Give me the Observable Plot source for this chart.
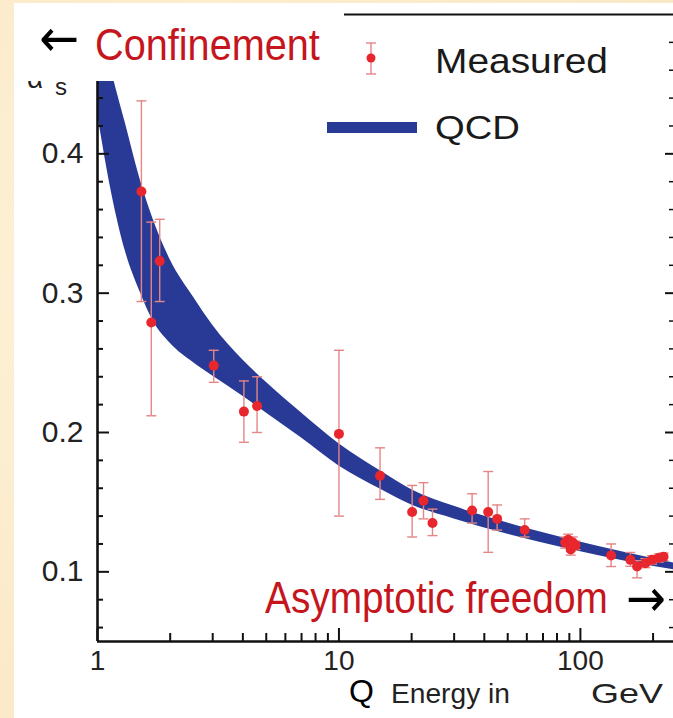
<!DOCTYPE html>
<html>
<head>
<meta charset="utf-8">
<script src="https://cdn.jsdelivr.net/npm/d3@7"></script>
<script src="https://cdn.jsdelivr.net/npm/@observablehq/plot@0.6"></script>
<style>
html, body { margin: 0; padding: 0; }
body { width: 673px; height: 718px; overflow: hidden; position: relative;
       background: radial-gradient(circle at 30% 40%, #FDF3DA 0%, #FBEBCB 60%, #FAE8C4 100%);
       font-family: "Liberation Sans", Arial, sans-serif; }
#panel { position: absolute; left: 14px; top: 3px; width: 659px; height: 715px; background: #fff; overflow: hidden; }
#chart { position: absolute; left: 0; top: 0; }
#overlay { position: absolute; left: 0; top: 0; }
</style>
</head>
<body>
<div id="panel"><div id="chart"></div></div>
<svg id="overlay" width="673" height="718" font-family="Liberation Sans, Arial, sans-serif">
  <!-- y-axis label, mostly hidden behind the annotation box -->
  <text x="27" y="88" font-size="28" fill="#222">α</text>
  <text x="55" y="95" font-size="24" fill="#222">s</text>
  <!-- annotation box -->
  <rect x="14" y="3" width="330" height="78" fill="#ffffff"></rect>
  <text class="fit" data-x="39" data-y="56" data-w="40" font-size="52" fill="#000" font-family="DejaVu Sans, sans-serif">←</text>
  <text class="fit" data-x="95" data-y="60" data-w="225" font-size="44" fill="#C5161D">Confinement</text>
  <!-- legend -->
  <line x1="371" x2="371" y1="43" y2="74" stroke="#E58585" stroke-width="1.4"></line>
  <line x1="366" x2="376" y1="43" y2="43" stroke="#E58585" stroke-width="1.4"></line>
  <line x1="366" x2="376" y1="74" y2="74" stroke="#E58585" stroke-width="1.4"></line>
  <circle cx="371" cy="58" r="4.5" fill="#E8262D"></circle>
  <text class="fit" data-x="435" data-y="73" data-w="173" font-size="35" fill="#1a1a1a">Measured</text>
  <rect x="327" y="122" width="90" height="11" fill="#283A96"></rect>
  <text class="fit" data-x="435" data-y="139" data-w="85" font-size="34" fill="#1a1a1a">QCD</text>
  <!-- bottom annotation -->
  <text class="fit" data-x="265" data-y="613" data-w="343" font-size="44" fill="#C5161D">Asymptotic freedom</text>
  <text class="fit" data-x="626" data-y="616" data-w="40" font-size="52" fill="#000" font-family="DejaVu Sans, sans-serif">→</text>
  <!-- x-axis title -->
  <text x="349" y="702" font-size="32" fill="#000">Q</text>
  <text class="fit" data-x="391" data-y="703" data-w="119" font-size="27" fill="#222">Energy in</text>
  <text class="fit" data-x="591" data-y="703" data-w="72" font-size="27" fill="#222">GeV</text>
</svg>
<script>
const measQ  = [1.52, 1.67, 1.81, 3.03, 4.04, 4.58, 10.0, 14.8, 20.1, 22.4, 24.4, 35.6, 41.5, 45.2, 58.8,
                86.5, 89, 91.2, 91.2, 93, 95.5, 134, 161, 171.7, 185.8, 198, 211, 221];
const measA  = [0.373, 0.279, 0.323, 0.248, 0.215, 0.219, 0.199, 0.169, 0.143, 0.151, 0.135, 0.144, 0.143, 0.138, 0.130,
                0.121, 0.123, 0.119, 0.116, 0.121, 0.119, 0.1118, 0.1086, 0.1038, 0.1062, 0.1086, 0.1099, 0.1108];
const measLo = [0.294, 0.212, 0.294, 0.236, 0.193, 0.200, 0.140, 0.152, 0.125, 0.138, 0.126, 0.135, 0.114, 0.130, 0.125,
                0.117, 0.119, 0.115, 0.112, 0.117, 0.116, 0.1038, 0.1040, 0.0957, 0.1030, 0.1055, 0.1070, 0.1080];
const measHi = [0.438, 0.351, 0.353, 0.259, 0.237, 0.240, 0.259, 0.189, 0.162, 0.164, 0.145, 0.156, 0.172, 0.148, 0.138,
                0.125, 0.127, 0.123, 0.120, 0.125, 0.122, 0.1200, 0.1139, 0.1080, 0.1095, 0.1115, 0.1128, 0.1135];

// ---- QCD band edges ----
const bandQ  = [1, 1.15, 1.3, 1.5, 1.7, 2, 2.5, 3, 4, 5, 7, 10, 15, 20, 30, 50, 91, 150, 245];
const bandHi = [0.507, 0.458, 0.423, 0.382, 0.353, 0.324, 0.297, 0.277, 0.252, 0.236, 0.214, 0.192, 0.172, 0.159, 0.147, 0.135, 0.123, 0.1142, 0.1062];
const bandLo = [0.429, 0.370, 0.331, 0.301, 0.280, 0.264, 0.250, 0.2405, 0.226, 0.214, 0.196, 0.176, 0.159, 0.148, 0.138, 0.127, 0.116, 0.108, 0.1014];

// ---- Ticks ----
const yMajor = [0.1, 0.2, 0.3, 0.4];
const yMinor = [0.06, 0.08, 0.12, 0.14, 0.16, 0.18, 0.22, 0.24, 0.26, 0.28, 0.32, 0.34, 0.36, 0.38, 0.42, 0.44, 0.46, 0.48];
const xMajor = [1, 10, 100];
const xMinor = [2, 3, 4, 5, 6, 7, 8, 9, 20, 30, 40, 50, 60, 70, 80, 90, 200];
const xLabels = ["1", "10", "100"];
const yLabels = ["0.1", "0.2", "0.3", "0.4"];

const meas = measQ.map((q, i) => ({q, a: measA[i], lo: measLo[i], hi: measHi[i]}));
const band = bandQ.map((q, i) => ({q, lo: bandLo[i], hi: bandHi[i]}));
const xLab = xMajor.map((v, i) => ({v, label: xLabels[i]}));
const yLab = yMajor.map((v, i) => ({v, label: yLabels[i]}));

const W = 659, H = 715, mL = 83, mT = 11, mR = 0, mB = 77;
const fw = W - mL - mR, fh = H - mT - mB;
const BLUE = "#283A96", RED = "#E8262D", ERR = "#E58585", INK = "#111";
const cap = {draw(ctx) { ctx.moveTo(-5, 0); ctx.lineTo(5, 0); }};

const chart = Plot.plot({
  width: W, height: H,
  marginLeft: mL, marginTop: mT, marginRight: mR, marginBottom: mB,
  style: {background: "transparent", fontFamily: "Liberation Sans, Arial, sans-serif", color: "#222", overflow: "visible"},
  x: {type: "log", domain: [1, 243], axis: null},
  y: {domain: [0.05, 0.5], axis: null},
  marks: [
    Plot.areaY(band, {x: "q", y1: "lo", y2: "hi", fill: BLUE, curve: "monotone-x", clip: true}),
    Plot.ruleX(meas, {x: "q", y1: "lo", y2: "hi", stroke: ERR, strokeWidth: 1.4}),
    Plot.dot(meas, {x: "q", y: "lo", symbol: cap, stroke: ERR, strokeWidth: 1.4, fill: "none"}),
    Plot.dot(meas, {x: "q", y: "hi", symbol: cap, stroke: ERR, strokeWidth: 1.4, fill: "none"}),
    Plot.dot(meas, {x: "q", y: "a", r: 5, fill: RED, stroke: "none"}),
    // inward ticks, left
    Plot.tickY(yMinor, {insetRight: fw - 6, stroke: INK, strokeWidth: 2}),
    Plot.tickY(yMajor, {insetRight: fw - 12, stroke: INK, strokeWidth: 2}),
    // inward ticks, right (frame edge lies at the picture's border)
    Plot.tickY(yMinor, {insetLeft: fw - 4, stroke: INK, strokeWidth: 1.5}),
    Plot.tickY(yMajor, {insetLeft: fw - 8, stroke: INK, strokeWidth: 2}),
    // inward ticks, bottom
    Plot.tickX(xMinor, {insetTop: fh - 8, stroke: INK, strokeWidth: 2}),
    Plot.tickX(xMajor, {insetTop: fh - 13, stroke: INK, strokeWidth: 2}),
    // frame lines
    Plot.ruleY([0.5], {stroke: INK, strokeWidth: 2}),
    Plot.ruleX([1], {stroke: INK, strokeWidth: 2.6}),
    Plot.ruleY([0.05], {stroke: INK, strokeWidth: 2.6}),
    // tick labels
    Plot.text(yLab, {y: "v", text: "label", frameAnchor: "left", textAnchor: "end", dx: -14, fontSize: 30, fill: "#222"}),
    Plot.text(xLab, {x: "v", text: "label", frameAnchor: "bottom", lineAnchor: "top", dy: 9, fontSize: 28, fill: "#222"})
  ]
});
document.getElementById("chart").appendChild(chart);

// fit annotation texts to the widths measured in the reference by horizontal scaling
document.querySelectorAll("#overlay text.fit").forEach(t => {
  const x = +t.dataset.x, y = +t.dataset.y, w = +t.dataset.w;
  t.setAttribute("x", 0); t.setAttribute("y", 0);
  const natural = t.getComputedTextLength() || w;
  t.setAttribute("transform", `translate(${x},${y}) scale(${w / natural},1)`);
});
</script>
</body>
</html>
